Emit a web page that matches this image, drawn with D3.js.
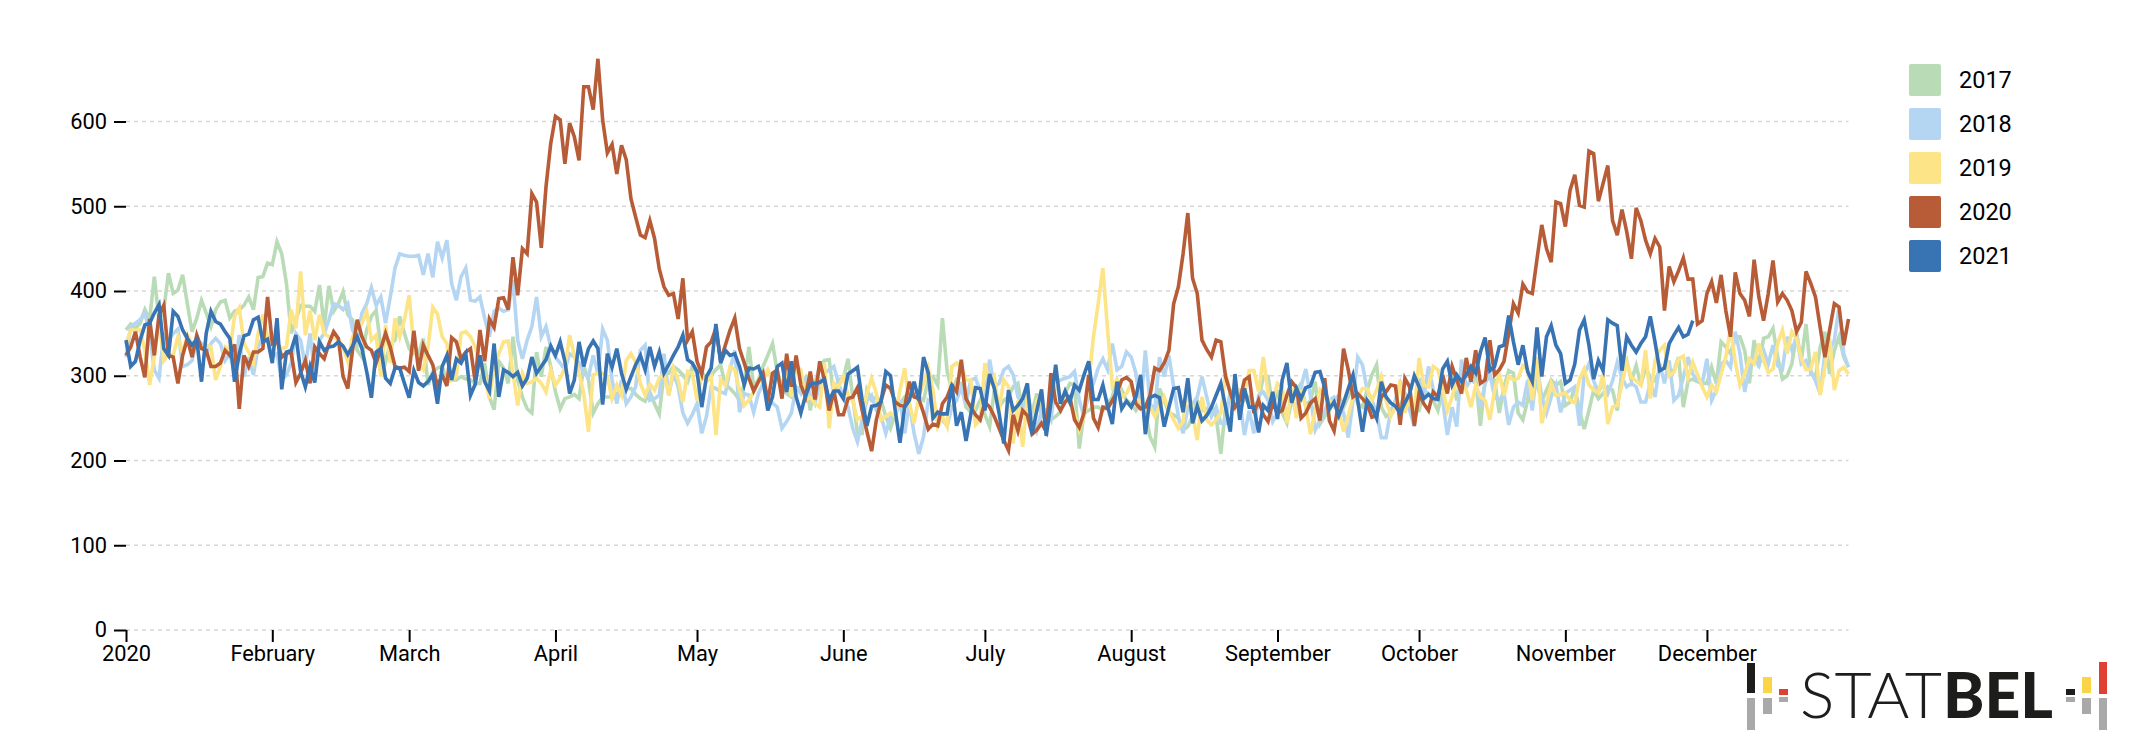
<!DOCTYPE html>
<html>
<head>
<meta charset="utf-8">
<script src="https://cdn.jsdelivr.net/npm/d3@7"></script>
<style>
html,body{margin:0;padding:0;background:#fff;}
svg{display:block;}
text{font-family:Roboto,sans-serif;fill:#000;}
</style>
</head>
<body>
<svg id="chart" width="2138" height="749"></svg>
<script>
const years = ["2017","2018","2019","2020","2021"];
const colors = ["#B9DBB6","#B4D6F3","#FDE487","#B75C37","#3873B3"];
const monthLabels = ["2020","February","March","April","May","June","July","August","September","October","November","December"];
const valueTicks = [0,100,200,300,400,500,600];

const values2017 = [
354,361,356,362,378,366,417,366,378,421,
397,401,419,385,352,368,389,374,358,378,
387,389,368,376,378,383,393,378,416,417,
433,431,458,444,409,350,366,383,382,382,
376,407,358,406,376,385,399,372,366,330,
322,354,370,377,334,316,338,342,370,350,
332,326,326,344,289,305,309,311,293,295,
295,299,296,295,291,291,315,275,260,317,
309,291,346,295,275,261,256,328,299,334,
311,281,261,273,275,278,273,311,295,256,
267,275,275,275,279,279,285,285,278,273,
270,281,267,255,303,303,311,307,301,293,
311,303,305,295,301,307,313,289,285,279,
271,291,334,287,295,311,324,338,305,287,
279,275,283,287,297,259,291,311,318,319,
275,295,297,320,275,232,232,283,271,275,
271,252,238,255,267,275,279,275,275,271,
295,299,289,368,305,283,295,289,263,257,
259,271,254,240,283,263,271,275,287,291,
256,279,256,279,252,259,248,252,257,279,
291,289,214,256,259,263,263,259,267,275,
295,283,271,267,259,267,256,228,216,285,
271,256,254,250,236,240,252,271,259,261,
263,252,208,263,271,291,267,271,275,264,
271,299,299,263,283,256,244,271,283,291,
263,271,293,243,252,259,271,277,263,275,
291,267,263,283,301,313,263,252,256,271,
263,279,271,256,259,283,279,271,259,283,
287,299,271,295,299,301,297,241,295,297,
295,256,287,306,303,256,248,271,305,290,
270,283,295,289,293,265,269,287,259,237,
259,283,273,279,287,283,259,306,318,294,
312,289,310,298,294,306,310,306,306,322,
263,294,296,293,291,291,310,291,340,334,
326,346,346,330,291,342,310,344,346,356,
322,296,300,314,350,318,361,302,298,334,
352,302,330,346,322,310];

const values2018 = [
322,358,362,366,374,350,307,297,348,342,
350,355,311,313,318,342,338,326,338,344,
338,318,326,303,348,299,322,301,334,346,
342,322,326,295,301,315,350,342,311,350,
303,342,350,366,385,383,378,385,354,342,
374,385,404,383,393,362,393,427,444,442,
441,441,442,419,444,416,458,439,460,409,
389,417,427,389,388,393,368,346,376,380,
376,378,413,342,320,342,358,393,346,358,
334,322,315,307,326,322,315,303,299,324,
303,355,342,295,267,295,267,275,287,330,
336,271,273,277,326,277,303,287,256,244,
254,267,232,252,287,285,281,279,307,330,
257,279,277,257,279,291,271,268,263,238,
246,256,287,279,295,277,267,291,303,307,
311,291,275,263,238,222,248,271,277,259,
252,232,252,252,271,232,267,232,208,228,
271,267,256,248,241,263,271,287,267,295,
297,283,271,319,287,291,307,311,301,275,
267,252,256,236,259,259,248,291,295,297,
299,305,271,252,279,291,309,320,307,338,
307,311,328,322,303,263,330,267,259,322,
299,324,287,252,232,263,267,275,299,275,
252,263,244,244,283,279,271,230,259,232,
277,281,271,246,256,275,252,271,259,287,
308,275,236,248,259,271,275,271,256,227,
271,322,313,283,271,256,227,227,259,271,
291,271,259,240,297,275,311,283,271,271,
230,263,240,319,287,295,291,263,291,303,
275,271,279,242,263,269,265,295,259,311,
275,256,275,289,257,279,283,287,241,302,
314,294,281,291,279,294,316,298,287,291,
287,269,269,291,275,314,291,318,271,277,
298,322,302,294,291,320,271,283,314,318,
310,352,326,281,310,322,312,330,314,336,
312,308,346,330,346,314,318,306,294,279,
326,330,342,381,326,310];

const values2019 = [
338,354,354,354,330,289,322,366,318,326,
324,346,326,348,338,334,334,336,334,295,
311,334,330,370,380,338,328,315,350,372,
346,342,338,332,334,378,356,423,348,377,
342,372,350,346,346,342,334,317,346,354,
362,376,342,348,299,360,315,368,346,366,
395,334,315,307,334,381,373,346,338,295,
299,350,352,346,334,313,299,273,311,326,
340,341,303,265,303,291,293,297,291,281,
307,289,297,309,348,324,303,279,234,301,
303,303,299,273,289,277,318,326,316,291,
277,290,283,297,303,277,309,295,269,305,
303,271,301,293,299,230,295,289,311,307,
283,265,271,281,293,295,307,293,295,287,
299,275,311,307,271,275,267,263,315,238,
291,287,299,277,271,248,252,279,297,279,
248,252,256,252,283,309,267,244,275,291,
309,283,240,252,240,311,315,311,295,295,
242,248,315,291,299,259,295,287,220,271,
216,275,232,271,279,232,271,303,271,275,
267,256,236,252,291,346,385,427,354,287,
295,275,279,291,271,271,259,263,252,263,
275,259,248,238,246,287,256,224,275,248,
242,248,256,303,279,263,283,279,306,306,
281,322,279,271,291,287,244,287,250,283,
263,231,259,283,275,271,263,259,234,253,
275,275,285,285,271,283,299,271,252,263,
295,256,275,256,321,289,287,311,307,285,
259,275,295,295,283,263,289,275,271,248,
283,303,277,299,295,297,312,308,271,322,
244,267,291,277,278,280,271,268,296,308,
289,283,280,302,243,263,265,291,316,298,
294,289,330,273,318,330,336,300,304,320,
323,298,316,302,287,275,289,281,302,322,
357,316,289,302,320,314,338,318,304,308,
338,354,326,352,344,320,307,308,328,277,
310,344,283,306,310,302];

const values2020 = [
324,334,352,322,298,367,324,372,383,324,
322,291,324,344,322,348,332,330,311,311,
315,330,324,337,261,324,311,328,328,332,
393,338,342,322,327,327,292,303,318,291,
334,326,320,338,352,344,299,285,330,366,
346,334,330,315,332,350,334,311,309,310,
305,353,306,336,324,313,287,301,288,345,
340,320,328,332,293,354,317,367,357,391,
392,378,440,395,450,444,515,505,451,523,
574,606,602,550,598,582,554,641,641,614,
674,602,563,573,538,572,555,509,487,466,
463,483,462,426,405,395,397,367,415,342,
352,317,302,334,340,356,318,336,354,368,
332,315,297,282,293,303,269,303,307,273,
326,287,324,289,275,305,272,317,295,259,
282,254,254,273,275,286,259,234,211,248,
271,289,285,269,265,264,293,275,273,256,
237,243,241,267,275,289,281,319,273,263,
254,248,269,263,252,238,224,212,254,235,
259,253,231,236,244,234,303,269,259,269,
275,248,239,256,301,250,239,263,261,271,
281,295,298,293,267,261,263,277,309,306,
315,330,385,405,444,492,415,397,342,331,
322,342,340,299,280,263,271,295,299,256,
271,254,246,268,256,259,277,293,286,250,
256,268,273,247,297,247,235,271,332,307,
275,279,273,267,251,253,275,281,289,288,
242,297,287,241,279,267,259,281,275,301,
279,311,295,279,321,293,330,291,295,342,
301,307,317,350,385,374,408,399,397,438,
478,450,434,505,503,476,519,537,501,499,
565,562,506,527,548,483,466,496,470,438,
498,483,460,444,462,452,377,429,411,424,
439,414,414,361,365,397,411,386,419,377,
346,422,397,389,370,437,393,365,397,436,
387,397,389,377,352,363,423,409,393,357,
322,354,385,381,336,367];

const values2021 = [
342,311,317,342,360,362,374,384,332,324,
376,370,354,344,336,343,293,350,376,364,
361,352,344,293,326,347,349,366,369,340,
343,315,368,284,328,330,348,305,287,311,
292,340,330,334,335,340,335,325,335,346,
332,305,274,328,332,297,291,309,309,291,
274,306,292,288,293,302,267,311,324,295,
320,315,326,277,290,324,293,282,338,275,
307,304,299,304,288,297,322,303,311,319,
335,324,340,317,279,295,340,311,332,341,
332,266,326,310,332,303,284,299,313,324,
307,334,311,328,303,313,324,334,348,319,
315,305,263,299,309,361,315,330,324,326,
311,289,309,308,311,295,259,275,311,315,
281,317,275,256,277,290,291,292,296,271,
282,282,273,302,306,310,271,241,264,265,
269,305,300,259,221,263,271,293,271,322,
303,250,257,255,255,290,241,257,223,254,
286,285,259,302,285,256,220,283,259,265,
273,291,231,259,284,229,268,313,267,282,
269,289,283,301,317,272,272,289,264,243,
293,261,270,263,275,301,231,274,277,274,
240,263,285,286,257,297,244,264,247,253,
263,277,291,263,234,302,248,285,263,263,
233,265,259,281,249,295,315,268,285,273,
286,288,304,305,286,261,269,253,268,285,
301,271,234,271,263,250,293,275,268,264,
256,268,279,300,287,273,278,273,272,308,
317,289,301,293,301,311,303,328,345,306,
311,334,336,371,340,313,336,305,293,357,
299,346,359,336,326,291,295,314,354,366,
336,296,318,306,366,362,359,306,346,336,
328,338,346,370,340,306,309,338,348,357,
346,349,365];

const seriesValues = [values2017,values2018,values2019,values2020,values2021];

const svg = d3.select("#chart");
const start = new Date(Date.UTC(2020,0,1));
const end = new Date(Date.UTC(2020,11,31));
const x = d3.scaleUtc().domain([start,end]).range([126,1848.5]);
const y = d3.scaleLinear().domain([0,600]).range([630,121.5]);
const AXIS_FONT = 21.8;
const LEGEND_FONT = 23.5;

// grid
svg.append("g").selectAll("line").data(valueTicks).join("line")
  .attr("x1",x.range()[0]).attr("x2",x.range()[1])
  .attr("y1",d=>y(d)).attr("y2",d=>y(d))
  .attr("stroke","#d6d6d6").attr("stroke-width",1.5).attr("stroke-dasharray","4 4");

// lines
const line = d3.line()
  .x((d,i)=>x(d3.utcDay.offset(start,i)))
  .y(d=>y(d));
svg.append("g").attr("fill","none").selectAll("path").data(seriesValues).join("path")
  .attr("d",line)
  .attr("stroke",(d,i)=>colors[i])
  .attr("stroke-width",3.6);

// axes
const months = d3.utcMonth.range(start,end);
const xAxis = d3.axisBottom(x).tickValues(months).tickSize(12).tickPadding(4)
  .tickFormat((d,i)=>monthLabels[i]);
const gx = svg.append("g").attr("transform",`translate(0,${y(0)})`).call(xAxis);
gx.select(".domain").remove();
gx.selectAll("line").attr("stroke","#000").attr("stroke-width",2);
gx.selectAll("text").attr("font-size",AXIS_FONT).attr("font-family","Roboto").attr("fill","#000");

const yAxis = d3.axisLeft(y).tickValues(valueTicks).tickSize(12).tickPadding(7);
const gy = svg.append("g").attr("transform",`translate(${x.range()[0]},0)`).call(yAxis);
gy.select(".domain").remove();
gy.selectAll("line").attr("stroke","#000").attr("stroke-width",2);
gy.selectAll("text").attr("font-size",AXIS_FONT).attr("font-family","Roboto").attr("fill","#000");

// legend
const legend = svg.append("g").selectAll("g").data(years).join("g")
  .attr("transform",(d,i)=>`translate(1909,${64+44*i})`);
legend.append("rect").attr("width",32).attr("height",32).attr("rx",2)
  .attr("fill",(d,i)=>colors[i]);
legend.append("text").attr("x",50).attr("y",16).attr("dy","0.35em")
  .attr("font-size",LEGEND_FONT).text(d=>d);

// STATBEL logo
const logoBars = [
  [1747,663,8,30,"#1d1d1b"],[1747,698,8,32,"#a9a9a9"],
  [1763,677,9,16,"#fbd545"],[1763,698,9,16,"#a9a9a9"],
  [1779,689,9,6,"#df4032"],[1779,697,9,5,"#a9a9a9"],
  [2066,689,9,6,"#1d1d1b"],[2066,697,9,5,"#a9a9a9"],
  [2082,677,9,16,"#fbd545"],[2082,698,9,16,"#a9a9a9"],
  [2099,662,8,32,"#df4032"],[2099,698,8,32,"#a9a9a9"]
];
const logo = svg.append("g");
logo.selectAll("rect").data(logoBars).join("rect")
  .attr("x",d=>d[0]).attr("y",d=>d[1]).attr("width",d=>d[2]).attr("height",d=>d[3]).attr("fill",d=>d[4]);
logo.append("text").attr("x",1800).attr("y",718)
  .attr("font-family","Lato").attr("font-weight",300).attr("font-size",63)
  .attr("textLength",142).attr("lengthAdjust","spacingAndGlyphs")
  .style("font-family","Lato").style("fill","#1d1d1b").text("STAT");
logo.append("text").attr("x",1943).attr("y",718)
  .attr("font-family","Lato").attr("font-weight",900).attr("font-size",63)
  .attr("textLength",110).attr("lengthAdjust","spacingAndGlyphs")
  .style("font-family","Lato").style("fill","#1d1d1b").text("BEL");
</script>
</body>
</html>
